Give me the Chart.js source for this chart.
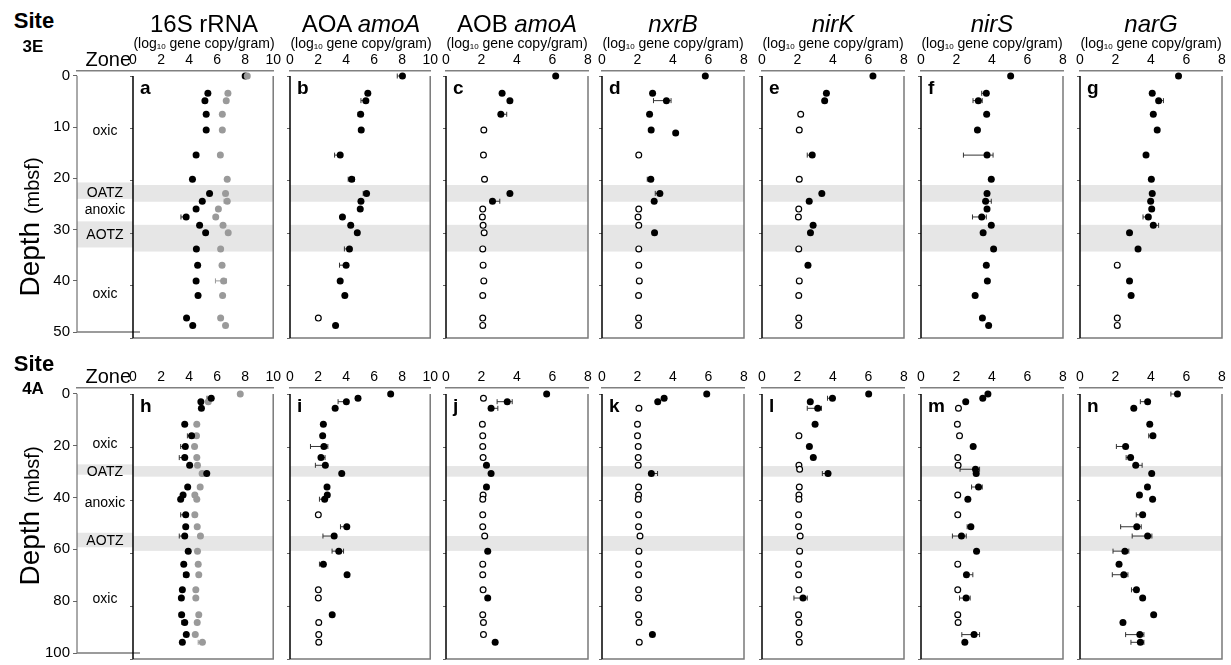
<!DOCTYPE html>
<html>
<head>
<meta charset="utf-8">
<script src="https://cdn.jsdelivr.net/npm/chart.js@4.4.1/dist/chart.umd.min.js"></script>
<style>
  body { margin: 0; background: #fff; font-family: "Liberation Sans", Arial, sans-serif; }
  #fig { position: relative; width: 1231px; height: 665px; overflow: hidden; }
  #fig canvas { position: absolute; }
  .t { position: absolute; white-space: nowrap; line-height: 1; transform: translateX(-50%); color: #000; }
  .gene { font-size: 24px; top: 12px; }
  .unit { font-size: 14px; top: 36px; }
  .unit sub { font-size: 8px; vertical-align: -1px; }
  .site { font-weight: bold; font-size: 22px; }
  .sid { font-weight: bold; font-size: 17px; }
  .dlab { position: absolute; white-space: nowrap; font-size: 28px; line-height: 1; transform: translate(-50%, -50%) rotate(-90deg); }
  .dlab span { font-size: 20px; }
</style>
</head>
<body>
<div id="fig"></div>
<script>
// ---- site 3E (depth in mbsf) ----
const depth3E = [0, 3.3, 4.7, 7.3, 10.3, 10.9, 15.1, 19.7, 22.4, 23.9, 25.4, 26.9, 28.5, 29.9, 33.0, 36.1, 39.1, 41.9, 46.2, 47.6];

const rrnaBlack3E = [8.0, 5.34, 5.13, 5.22, 5.22, null, 4.50, 4.24, 5.46, 4.94, 4.50, 3.79, 4.75, 5.18, 4.52, 4.61, 4.50, 4.64, 3.82, 4.26];
const rrnaGray3E = [8.15, 6.77, 6.65, 6.37, 6.37, null, 6.23, 6.72, 6.60, 6.72, 6.09, 5.90, 6.42, 6.79, 6.25, 6.35, 6.46, 6.39, 6.25, 6.60];
const rrnaBlack3EErr = [[11, 3.42, 3.79]];
const rrnaGray3EErr = [[9, 6.5, 6.75], [16, 5.88, 6.67]];

const aoa3E = [8.02, 5.55, 5.41, 5.04, 5.08, null, 3.58, 4.40, 5.46, 5.06, 5.01, 3.74, 4.33, 4.80, 4.24, 4.00, 3.58, 3.91, 2.02, 3.25];
const aoa3EOpen = [18];
const aoa3EErr = [[0, 7.65, 8.1], [2, 5.06, 5.45], [3, 4.85, 5.1], [6, 3.18, 3.6], [7, 4.15, 4.6], [8, 5.22, 5.5], [14, 3.88, 4.3], [15, 3.53, 4.05]];

const aob3E = [6.18, 3.16, 3.60, 3.09, 2.13, null, 2.11, 2.17, 3.60, 2.62, 2.07, 2.05, 2.09, 2.15, 2.07, 2.09, 2.13, 2.07, 2.07, 2.07];
const aob3EOpen = [4, 6, 7, 10, 11, 12, 13, 14, 15, 16, 17, 18, 19];
const aob3EErr = [[3, 3.0, 3.42], [9, 2.5, 3.03]];

const nxrB3E = [5.82, 2.85, 3.63, 2.68, 2.77, 4.15, 2.07, 2.75, 3.26, 2.94, 2.07, 2.03, 2.07, 2.96, 2.07, 2.07, 2.10, 2.06, 2.06, 2.06];
const nxrB3EOpen = [6, 10, 11, 12, 14, 15, 16, 17, 18, 19];
const nxrB3EErr = [[2, 2.9, 3.89], [7, 2.55, 2.8], [8, 3.0, 3.3]];

const nirK3E = [6.25, 3.63, 3.53, 2.18, 2.10, null, 2.83, 2.10, 3.37, 2.66, 2.07, 2.05, 2.88, 2.73, 2.07, 2.59, 2.10, 2.07, 2.07, 2.07];
const nirK3EOpen = [3, 4, 7, 10, 11, 14, 16, 17, 18, 19];
const nirK3EErr = [[6, 2.55, 2.9]];

const nirS3E = [5.05, 3.68, 3.23, 3.70, 3.18, null, 3.72, 3.96, 3.72, 3.64, 3.72, 3.42, 3.96, 3.50, 4.09, 3.68, 3.74, 3.05, 3.46, 3.81];
const nirS3EErr = [[1, 3.42, 3.75], [2, 2.93, 3.45], [6, 2.39, 4.06], [9, 3.6, 3.96], [11, 2.9, 3.68]];

const narG3E = [5.55, 4.07, 4.43, 4.13, 4.35, null, 3.72, 4.02, 4.07, 3.98, 4.04, 3.85, 4.13, 2.79, 3.27, 2.10, 2.79, 2.88, 2.10, 2.10];
const narG3EOpen = [15, 18, 19];
const narG3EErr = [[2, 4.4, 4.7], [11, 3.55, 3.9], [12, 4.1, 4.43]];

// ---- site 4A ----
const depth4A = [0, 1.6, 2.9, 5.4, 11.4, 15.8, 19.8, 24.0, 26.9, 28.4, 30.0, 35.1, 38.1, 39.7, 45.6, 50.1, 53.6, 59.3, 64.2, 68.2, 73.9, 77.0, 83.3, 86.2, 90.8, 93.7];

const rrnaBlack4A = [null, 5.58, 4.84, 4.88, 3.69, 4.18, 3.73, 3.69, 4.04, null, 5.26, 3.90, 3.57, 3.40, 3.76, 3.76, 3.69, 3.94, 3.62, 3.80, 3.52, 3.45, 3.47, 3.69, 3.80, 3.52];
const rrnaGray4A = [7.65, null, 5.37, null, 4.55, 4.53, 4.39, 4.55, 4.60, null, 4.93, 4.79, 4.41, 4.55, 4.41, 4.58, 4.81, 4.60, 4.65, 4.69, 4.48, 4.48, 4.69, 4.58, 4.44, 4.95];
const rrnaBlack4AErr = [[1, 5.28, 5.58], [5, 3.88, 4.18], [6, 3.4, 3.73], [7, 3.3, 3.69], [10, 4.81, 5.26], [14, 3.4, 3.76], [16, 3.3, 3.69], [19, 3.6, 3.8], [22, 3.3, 3.47], [23, 3.48, 3.69]];
const rrnaGray4AErr = [[25, 4.65, 4.95]];

const aoa4A = [7.18, 4.85, 4.02, 3.22, 2.38, 2.33, 2.42, 2.21, 2.52, null, 3.69, 2.64, 2.66, 2.47, 2.02, 4.05, 3.15, 3.48, 2.38, 4.07, 2.02, 2.02, 3.01, 2.05, 2.05, 2.05];
const aoa4AOpen = [14, 20, 21, 23, 24, 25];
const aoa4AErr = [[2, 3.43, 4.02], [6, 1.46, 2.7], [7, 2.21, 2.5], [8, 1.81, 2.52], [13, 2.1, 2.47], [15, 3.6, 4.05], [16, 2.35, 3.15], [17, 3.0, 3.82], [18, 2.1, 2.38]];

const aob4A = [5.67, 2.11, 3.45, 2.54, 2.05, 2.07, 2.07, 2.09, 2.28, null, 2.54, 2.28, 2.09, 2.07, 2.07, 2.07, 2.18, 2.35, 2.07, 2.07, 2.09, 2.35, 2.07, 2.11, 2.11, 2.77];
const aob4AOpen = [1, 4, 5, 6, 7, 12, 13, 14, 15, 16, 18, 19, 20, 22, 23, 24];
const aob4AErr = [[2, 2.88, 3.73], [3, 2.54, 2.92]];

const nxrB4A = [5.90, 3.50, 3.14, 2.08, 2.00, 2.00, 2.04, 2.04, 2.04, null, 2.78, 2.06, 2.06, 2.04, 2.06, 2.06, 2.14, 2.08, 2.06, 2.06, 2.06, 2.06, 2.06, 2.08, 2.84, 2.10];
const nxrB4AOpen = [3, 4, 5, 6, 7, 8, 11, 12, 13, 14, 15, 16, 17, 18, 19, 20, 21, 22, 23, 25];
const nxrB4AErr = [[10, 2.78, 3.13]];

const nirK4A = [6.01, 3.97, 2.72, 3.14, 2.99, 2.08, 2.67, 2.89, 2.08, 2.12, 3.72, 2.10, 2.08, 2.08, 2.06, 2.06, 2.15, 2.12, 2.06, 2.06, 2.08, 2.31, 2.06, 2.08, 2.08, 2.10];
const nirK4AOpen = [5, 8, 9, 11, 12, 13, 14, 15, 16, 17, 18, 19, 20, 22, 23, 24, 25];
const nirK4AErr = [[1, 3.69, 3.97], [3, 2.55, 3.35], [10, 3.4, 3.72], [21, 1.8, 2.55]];

const nirS4A = [3.77, 3.48, 2.52, 2.11, 2.05, 2.17, 2.94, 2.07, 2.09, 3.07, 3.11, 3.24, 2.07, 2.64, 2.07, 2.81, 2.28, 3.13, 2.07, 2.56, 2.07, 2.54, 2.07, 2.09, 2.99, 2.47];
const nirS4AOpen = [3, 4, 5, 7, 8, 12, 14, 18, 20, 22, 23];
const nirS4AErr = [[9, 2.2, 3.3], [11, 2.85, 3.45], [15, 2.6, 2.81], [16, 1.77, 2.55], [19, 2.56, 2.92], [21, 2.17, 2.77], [24, 2.3, 3.3]];

const narG4A = [5.49, null, 3.81, 3.03, 3.93, 4.11, 2.57, 2.85, 3.14, null, 4.04, 3.80, 3.35, 4.09, 3.53, 3.20, 3.81, 2.53, 2.20, 2.47, 3.18, 3.53, 4.15, 2.42, 3.37, 3.40];
const narG4AErr = [[0, 5.12, 5.49], [2, 3.4, 3.81], [5, 3.87, 4.11], [6, 2.05, 2.57], [7, 2.6, 2.85], [8, 3.14, 3.5], [14, 3.17, 3.53], [15, 2.29, 3.45], [16, 2.94, 4.05], [17, 1.86, 2.75], [19, 1.82, 2.7], [20, 2.9, 3.18], [24, 2.57, 3.6], [25, 2.87, 3.6]];

// zones
const zoneBands3E = [[20.8, 24.0], [28.4, 33.5]];
const zoneBands4A = [[27.2, 31.2], [53.6, 59.2]];
const zoneNames = ['oxic', 'OATZ', 'anoxic', 'AOTZ', 'oxic'];
const zoneAt3E = [10.8, 22.9, 26.3, 31.1, 42.7];
const zoneAt4A = [19.4, 30.2, 42.3, 56.8, 79.2];

const geneTitles = ['16S rRNA', 'AOA <i>amoA</i>', 'AOB <i>amoA</i>', '<i>nxrB</i>', '<i>nirK</i>', '<i>nirS</i>', '<i>narG</i>'];
const xMaxes = [10, 10, 8, 8, 8, 8, 8];
const letters3E = ['a', 'b', 'c', 'd', 'e', 'f', 'g'];
const letters4A = ['h', 'i', 'j', 'k', 'l', 'm', 'n'];

// layout
const lefts = [133, 290, 446, 602, 762, 921, 1080];
const W = 142;
const FONT = '"Liberation Sans", Arial, sans-serif';
Chart.defaults.font.family = FONT;
Chart.defaults.color = '#000';

const fig = document.getElementById('fig');

function mkRow(o) {
  o.min = -(o.y0 - o.axisY) * o.max / (o.yEnd - o.y0);
  return o;
}
const row3E = mkRow({site: '3E', top: 40, axisY: 71, y0: 76, yEnd: 338, max: 50, step: 10, depth: depth3E, bands: zoneBands3E, zoneAt: zoneAt3E, siteY: 10.4, idY: 37.6, depthMid: 227});
const row4A = mkRow({site: '4A', top: 357, axisY: 388, y0: 394, yEnd: 659, max: 100, step: 20, depth: depth4A, bands: zoneBands4A, zoneAt: zoneAt4A, siteY: 353.4, idY: 379.6, depthMid: 516});

function newCanvas(left, top, w, h) {
  const cv = document.createElement('canvas');
  cv.width = w; cv.height = h;
  cv.style.left = left + 'px';
  cv.style.top = top + 'px';
  fig.appendChild(cv);
  return cv;
}

function depthTicks(row) {
  return s => {
    const t = [];
    for (let v = 0; v <= row.max; v += row.step) t.push({value: v});
    s.ticks = t;
  };
}

function makeSets(depth, vals, open, color) {
  const filled = [], hollow = [];
  vals.forEach((v, i) => {
    if (v == null) return;
    (open.includes(i) ? hollow : filled).push({x: v, y: depth[i]});
  });
  return [
    {data: filled, backgroundColor: color, borderColor: color, pointRadius: 3.5, borderWidth: 0},
    {data: hollow, backgroundColor: '#fff', borderColor: '#000', pointRadius: 2.9, borderWidth: 1.2}
  ];
}

function panelDeco(row, series, letter) {
  return {
    id: 'deco',
    beforeDatasetsDraw(chart) {
      const {ctx, chartArea: a, scales: {x, y}} = chart;
      const top = y.getPixelForValue(0);
      ctx.save();
      ctx.fillStyle = '#e6e6e6';
      row.bands.forEach(b => {
        const y1 = y.getPixelForValue(b[0]), y2 = y.getPixelForValue(b[1]);
        ctx.fillRect(a.left, y1, a.right - a.left, y2 - y1);
      });
      ctx.lineWidth = 1.5;
      ctx.strokeStyle = '#7a7a7a';
      ctx.beginPath();
      ctx.moveTo(a.right, top); ctx.lineTo(a.right, a.bottom); ctx.lineTo(a.left, a.bottom);
      ctx.stroke();
      ctx.strokeStyle = '#000';
      ctx.beginPath();
      ctx.moveTo(a.left, top); ctx.lineTo(a.left, a.bottom);
      ctx.stroke();
      // error bars
      ctx.lineWidth = 1;
      series.forEach(s => (s.err || []).forEach(([i, lo, hi]) => {
        const py = y.getPixelForValue(row.depth[i]);
        const x1 = x.getPixelForValue(lo), x2 = x.getPixelForValue(hi);
        ctx.strokeStyle = s.errColor;
        ctx.beginPath();
        ctx.moveTo(x1, py); ctx.lineTo(x2, py);
        ctx.moveTo(x1, py - 2.5); ctx.lineTo(x1, py + 2.5);
        ctx.moveTo(x2, py - 2.5); ctx.lineTo(x2, py + 2.5);
        ctx.stroke();
      }));
      ctx.fillStyle = '#000';
      ctx.font = 'bold 19px ' + FONT;
      ctx.textBaseline = 'alphabetic';
      ctx.fillText(letter, a.left + 7, top + 18);
      ctx.restore();
    }
  };
}

function panel(row, col, series, letter) {
  const cv = newCanvas(lefts[col] - 8, row.top, W + 16, row.yEnd - row.top + 6);
  const datasets = [];
  series.forEach(s => datasets.push(...makeSets(row.depth, s.vals, s.open || [], s.color)));
  new Chart(cv, {
    type: 'scatter',
    data: {datasets: datasets},
    options: {
      responsive: false,
      animation: false,
      events: [],
      layout: {padding: {left: 0, right: 8, top: 0, bottom: 6}},
      plugins: {legend: {display: false}, tooltip: {enabled: false}},
      scales: {
        x: {
          position: 'top', min: 0, max: xMaxes[col],
          ticks: {stepSize: 2, font: {size: 14}, color: '#000', padding: 2, maxRotation: 0, autoSkip: false},
          grid: {display: true, drawOnChartArea: false, drawTicks: false},
          border: {display: true, color: '#808080', width: 1.5},
          afterFit: s => { s.height = row.axisY - row.top; }
        },
        y: {
          reverse: true, min: row.min, max: row.max,
          afterBuildTicks: depthTicks(row),
          ticks: {display: false},
          grid: {display: true, drawOnChartArea: false, drawTicks: true, tickLength: 3, color: '#666'},
          border: {display: false},
          afterFit: s => { s.width = 8; }
        }
      }
    },
    plugins: [panelDeco(row, series, letter)]
  });
}

function zoneColumn(row) {
  const cv = newCanvas(0, row.top, 140, row.yEnd - row.top + 6);
  new Chart(cv, {
    type: 'scatter',
    data: {datasets: []},
    options: {
      responsive: false,
      animation: false,
      events: [],
      layout: {padding: {left: 0, right: 9, top: 0, bottom: 6}},
      plugins: {legend: {display: false}, tooltip: {enabled: false}},
      scales: {
        x: {
          position: 'top', min: 0, max: 1,
          ticks: {display: false},
          grid: {display: true, drawOnChartArea: false, drawTicks: false},
          border: {display: true, color: '#808080', width: 1.5},
          title: {display: true, text: 'Zone', align: 'end', font: {size: 20}, color: '#000', padding: {top: 8, bottom: 0}},
          afterFit: s => { s.height = row.axisY - row.top; }
        },
        y: {
          reverse: true, min: row.min, max: row.max,
          afterBuildTicks: depthTicks(row),
          ticks: {font: {size: 15}, color: '#000', padding: 3},
          grid: {display: true, drawOnChartArea: false, drawTicks: true, tickLength: 4, color: '#666'},
          border: {display: false},
          afterFit: s => { s.width = 77; }
        }
      }
    },
    plugins: [{
      id: 'zones',
      beforeDatasetsDraw(chart) {
        const {ctx, chartArea: a, scales: {y}} = chart;
        const top = y.getPixelForValue(0);
        ctx.save();
        ctx.fillStyle = '#e6e6e6';
        row.bands.forEach(b => {
          const y1 = y.getPixelForValue(b[0]), y2 = y.getPixelForValue(b[1]);
          ctx.fillRect(a.left, y1, a.right - a.left + 2, y2 - y1);
        });
        ctx.strokeStyle = '#555';
        ctx.lineWidth = 1;
        ctx.beginPath(); ctx.moveTo(a.left, top); ctx.lineTo(a.left, a.bottom); ctx.stroke();
        ctx.strokeStyle = '#7a7a7a';
        ctx.lineWidth = 1.5;
        ctx.beginPath(); ctx.moveTo(a.left, a.bottom); ctx.lineTo(a.right + 9, a.bottom); ctx.stroke();
        ctx.fillStyle = '#000';
        ctx.font = '14px ' + FONT;
        ctx.textAlign = 'center';
        ctx.textBaseline = 'middle';
        zoneNames.forEach((n, i) => ctx.fillText(n, (a.left + a.right) / 2 + 1, y.getPixelForValue(row.zoneAt[i])));
        ctx.restore();
      }
    }]
  });
}

function addText(cls, html, x, y) {
  const d = document.createElement('div');
  d.className = 't ' + cls;
  d.innerHTML = html;
  d.style.left = x + 'px';
  if (y != null) d.style.top = y + 'px';
  fig.appendChild(d);
}

[row3E, row4A].forEach(row => {
  zoneColumn(row);
  addText('site', 'Site', 34, row.siteY);
  addText('sid', row.site, 33, row.idY);
  const dl = document.createElement('div');
  dl.className = 'dlab';
  dl.innerHTML = 'Depth <span>(mbsf)</span>';
  dl.style.left = '30px';
  dl.style.top = row.depthMid + 'px';
  fig.appendChild(dl);
});

const BLACK = '#000', GRAY = '#9a9a9a';
const panels3E = [
  [{vals: rrnaGray3E, color: GRAY, err: rrnaGray3EErr, errColor: '#999'}, {vals: rrnaBlack3E, color: BLACK, err: rrnaBlack3EErr, errColor: '#333'}],
  [{vals: aoa3E, open: aoa3EOpen, color: BLACK, err: aoa3EErr, errColor: '#333'}],
  [{vals: aob3E, open: aob3EOpen, color: BLACK, err: aob3EErr, errColor: '#333'}],
  [{vals: nxrB3E, open: nxrB3EOpen, color: BLACK, err: nxrB3EErr, errColor: '#333'}],
  [{vals: nirK3E, open: nirK3EOpen, color: BLACK, err: nirK3EErr, errColor: '#333'}],
  [{vals: nirS3E, color: BLACK, err: nirS3EErr, errColor: '#333'}],
  [{vals: narG3E, open: narG3EOpen, color: BLACK, err: narG3EErr, errColor: '#333'}]
];
const panels4A = [
  [{vals: rrnaBlack4A, color: BLACK, err: rrnaBlack4AErr, errColor: '#333'}, {vals: rrnaGray4A, color: GRAY, err: rrnaGray4AErr, errColor: '#999'}],
  [{vals: aoa4A, open: aoa4AOpen, color: BLACK, err: aoa4AErr, errColor: '#333'}],
  [{vals: aob4A, open: aob4AOpen, color: BLACK, err: aob4AErr, errColor: '#333'}],
  [{vals: nxrB4A, open: nxrB4AOpen, color: BLACK, err: nxrB4AErr, errColor: '#333'}],
  [{vals: nirK4A, open: nirK4AOpen, color: BLACK, err: nirK4AErr, errColor: '#333'}],
  [{vals: nirS4A, open: nirS4AOpen, color: BLACK, err: nirS4AErr, errColor: '#333'}],
  [{vals: narG4A, color: BLACK, err: narG4AErr, errColor: '#333'}]
];

for (let c = 0; c < 7; c++) {
  panel(row3E, c, panels3E[c], letters3E[c]);
  panel(row4A, c, panels4A[c], letters4A[c]);
  const cx = lefts[c] + W / 2;
  addText('gene', geneTitles[c], cx);
  addText('unit', '(log<sub>10</sub> gene copy/gram)', cx);
}
</script>
</body>
</html>
